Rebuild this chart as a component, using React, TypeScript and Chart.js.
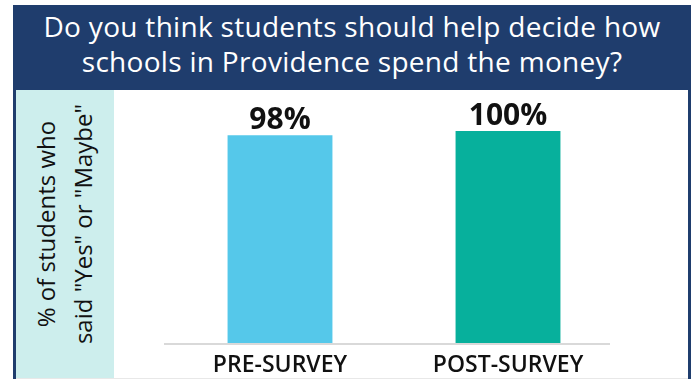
import React, { useEffect, useRef } from "react";
import { Chart, registerables } from "chart.js";

Chart.register(...registerables);

const titleLines = ["Do you think students should help decide how", "schools in Providence spend the money?"];
const yLabelLines = ["% of students who", "said \"Yes\" or \"Maybe\""];
const categories = ["PRE-SURVEY", "POST-SURVEY"];
const values = [98, 100];
const barColors = ["#55c8ea", "#07b09c"];

const NAVY = "#1f3d6d";
const FONT = "'Open Sans', 'Noto Sans', sans-serif";

const valueLabelPlugin = {
  id: "valueLabels",
  afterDatasetsDraw(chart: any) {
    const ctx = chart.ctx;
    const meta = chart.getDatasetMeta(0);
    ctx.save();
    ctx.fillStyle = "#111111";
    ctx.font = `700 30px ${FONT}`;
    ctx.textAlign = "center";
    ctx.textBaseline = "alphabetic";
    meta.data.forEach((bar: any, i: number) => {
      ctx.fillText(`${values[i]}%`, bar.x, bar.y - 6);
    });
    ctx.restore();
  },
};

const baselinePlugin = {
  id: "baseline",
  afterDatasetsDraw(chart: any) {
    const { ctx, chartArea } = chart;
    ctx.save();
    ctx.strokeStyle = "#d9d9d9";
    ctx.lineWidth = 2;
    ctx.beginPath();
    ctx.moveTo(chartArea.left - 2, chartArea.bottom + 1);
    ctx.lineTo(chartArea.right - 12, chartArea.bottom + 1);
    ctx.stroke();
    ctx.restore();
  },
};

function BarChart() {
  const ref = useRef<HTMLCanvasElement | null>(null);
  useEffect(() => {
    if (!ref.current) return;
    const chart = new Chart(ref.current, {
      type: "bar",
      data: {
        labels: categories,
        datasets: [
          {
            data: values,
            backgroundColor: barColors,
            borderWidth: 0,
            barPercentage: 0.92,
            categoryPercentage: 0.5,
          },
        ],
      },
      options: {
        animation: false,
        responsive: false,
        maintainAspectRatio: false,
        layout: { padding: { left: 52, right: 66, top: 41, bottom: 0 } },
        plugins: { legend: { display: false }, tooltip: { enabled: false } },
        scales: {
          x: {
            grid: { display: false },
            border: { display: false },
            ticks: {
              color: "#111111",
              font: { family: FONT, size: 23, weight: 600 },
              padding: 1,
              maxRotation: 0,
            },
            afterFit(scale: any) {
              scale.height = 35;
            },
          },
          y: { display: false, min: 0, max: 100 },
        },
      },
      plugins: [valueLabelPlugin, baselinePlugin],
    });
    return () => chart.destroy();
  }, []);
  return <canvas ref={ref} width={574} height={288} style={{ display: "block", width: 574, height: 288 }} />;
}

export default function App() {
  return (
    <div style={{ position: "fixed", left: 0, top: 0, width: 694, height: 379, background: "#ffffff", overflow: "hidden" }}>
      <div
        style={{
          position: "absolute",
          left: 13,
          top: 5,
          width: 678,
          height: 85,
          background: NAVY,
          color: "#ffffff",
          fontFamily: FONT,
          fontSize: 28,
          fontWeight: 500,
          letterSpacing: 0.3,
          lineHeight: "35px",
          textAlign: "center",
          paddingTop: 4,
          boxSizing: "border-box",
        }}
      >
        {titleLines.map((t, i) => (
          <div key={i}>{t}</div>
        ))}
      </div>
      <div style={{ position: "absolute", left: 13, top: 90, width: 3, height: 289, background: NAVY }} />
      <div style={{ position: "absolute", left: 688, top: 90, width: 3, height: 289, background: NAVY }} />
      <div style={{ position: "absolute", left: 16, top: 378, width: 672, height: 1, background: "#e8e8e8" }} />
      <div
        style={{
          position: "absolute",
          left: 16,
          top: 90,
          width: 98,
          height: 288,
          background: "#cdeeed",
        }}
      >
        <div
          style={{
            position: "absolute",
            left: 48,
            top: 134,
            width: 288,
            transform: "translate(-50%, -50%) rotate(-90deg)",
            fontFamily: FONT,
            fontSize: 24,
            fontWeight: 500,
            lineHeight: "37px",
            color: "#111111",
            textAlign: "center",
            whiteSpace: "nowrap",
          }}
        >
          {yLabelLines.map((t, i) => (
            <div key={i}>{t}</div>
          ))}
        </div>
      </div>
      <div style={{ position: "absolute", left: 114, top: 90 }}>
        <BarChart />
      </div>
    </div>
  );
}
